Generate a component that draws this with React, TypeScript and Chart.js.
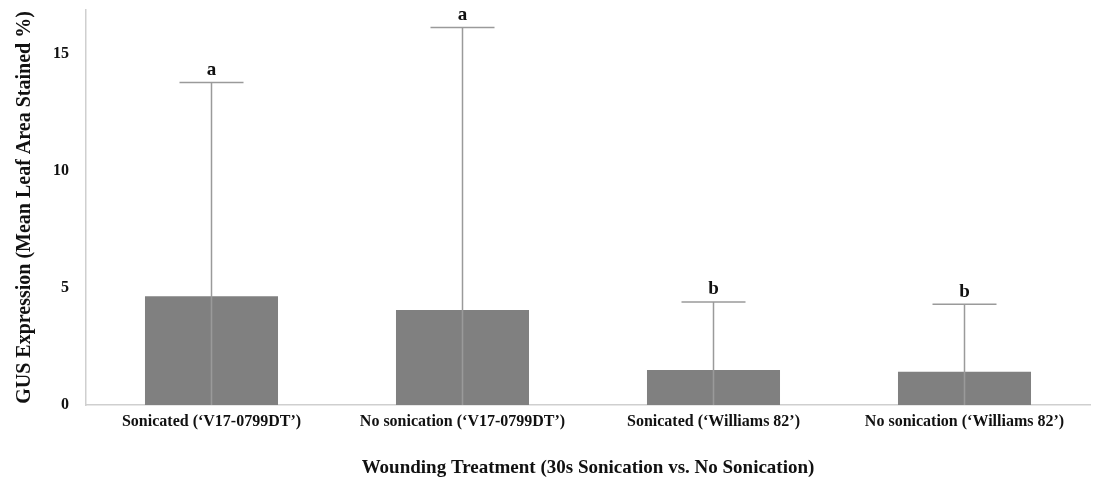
import React, { useEffect, useRef } from "react";
import { Chart, registerables } from "chart.js";

Chart.register(...registerables);

const categories = [
  "Sonicated (\u2018V17-0799DT\u2019)",
  "No sonication (\u2018V17-0799DT\u2019)",
  "Sonicated (\u2018Williams 82\u2019)",
  "No sonication (\u2018Williams 82\u2019)",
];
const means = [4.64, 4.05, 1.49, 1.42];
const upperErrors = [13.76, 16.1, 4.39, 4.3];
const letters = ["a", "a", "b", "b"];
const yTicks = [0, 5, 10, 15];

const FONT = "'Liberation Serif', 'Times New Roman', serif";

const errorPlugin = {
  id: "errorBars",
  afterDatasetsDraw(chart: any) {
    const ctx = chart.ctx;
    const meta = chart.getDatasetMeta(0);
    const y = chart.scales.y;
    ctx.save();
    meta.data.forEach((bar: any, i: number) => {
      const x = bar.x;
      const yTop = y.getPixelForValue(upperErrors[i]);
      const yBase = y.getPixelForValue(0);
      ctx.strokeStyle = "#9a9a9a";
      ctx.lineWidth = 1.5;
      ctx.beginPath();
      ctx.moveTo(x, yBase);
      ctx.lineTo(x, yTop);
      ctx.moveTo(x - 32, yTop);
      ctx.lineTo(x + 32, yTop);
      ctx.stroke();
      ctx.fillStyle = "#111";
      ctx.font = `bold 19px ${FONT}`;
      ctx.textAlign = "center";
      ctx.textBaseline = "bottom";
      ctx.fillText(letters[i], x, yTop - 3);
    });
    ctx.restore();
  },
};

export default function App() {
  const ref = useRef<HTMLCanvasElement>(null);
  useEffect(() => {
    if (!ref.current) return;
    const chart = new Chart(ref.current, {
      type: "bar",
      data: {
        labels: categories,
        datasets: [
          {
            data: means,
            backgroundColor: "#808080",
            borderWidth: 0,
            barPercentage: 0.53,
            categoryPercentage: 1,
          },
        ],
      },
      options: {
        animation: false,
        responsive: false,
        maintainAspectRatio: false,
        layout: { padding: { top: 10, right: 4, left: 0, bottom: 0 } },
        plugins: { legend: { display: false }, tooltip: { enabled: false } },
        scales: {
          x: {
            grid: { display: false, drawTicks: false },
            border: { color: "#cfcfcf", width: 1.5 },
            ticks: {
              color: "#111",
              font: { family: FONT, size: 16, weight: "bold" },
              padding: 7,
              maxRotation: 0,
              autoSkip: false,
            },
            title: {
              display: true,
              text: "Wounding Treatment (30s Sonication vs. No Sonication)",
              color: "#111",
              font: { family: FONT, size: 19, weight: "bold" },
              padding: { top: 6, bottom: 6 },
            },
            afterFit(scale: any) {
              scale.height = 80;
              scale.paddingLeft = 0;
              scale.paddingRight = 0;
            },
          },
          y: {
            min: 0,
            max: 16.85,
            afterBuildTicks(scale: any) {
              scale.ticks = yTicks.map((v) => ({ value: v }));
            },
            grid: { display: false, drawTicks: true, tickLength: 5, tickColor: "#cfcfcf" },
            border: { color: "#cfcfcf", width: 1.5 },
            ticks: {
              color: "#111",
              font: { family: FONT, size: 16, weight: "bold" },
              padding: 12,
            },
            title: {
              display: true,
              text: "GUS Expression (Mean Leaf Area Stained %)",
              color: "#111",
              font: { family: FONT, size: 20, weight: "bold" },
              padding: { top: 13, bottom: 13 },
            },
            afterFit(scale: any) {
              scale.width = 86;
              scale.paddingTop = 0;
              scale.paddingBottom = 0;
            },
          },
        },
      },
      plugins: [errorPlugin],
    });
    return () => chart.destroy();
  }, []);
  return (
    <div style={{ position: "absolute", left: 0, top: 0, width: 1094, height: 485, background: "#fff" }}>
      <canvas ref={ref} width={1094} height={485} style={{ width: 1094, height: 485 }} />
    </div>
  );
}
